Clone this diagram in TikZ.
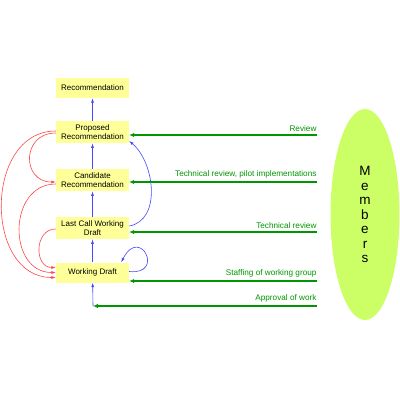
\documentclass[tikz,border=0pt]{standalone}
\usepackage{fontspec}
\setmainfont{Liberation Sans}
\usetikzlibrary{shapes.geometric,arrows.meta}
\definecolor{boxyellow}{RGB}{255,255,153}
\definecolor{memgreen}{RGB}{204,255,102}
\definecolor{fwdblue}{RGB}{70,70,255}
\definecolor{backred}{RGB}{255,70,70}
\definecolor{feedgreen}{RGB}{0,150,0}
\tikzset{
	box/.style={fill=boxyellow,minimum width=73pt,minimum height=20pt,inner xsep=2pt,inner ysep=3.5pt,align=center,font=\fontsize{8}{9.5}\selectfont},
	fwd/.style={-{Latex[length=4.5pt,width=3pt]},fwdblue,line width=0.6pt},
	back/.style={-{Latex[length=4.5pt,width=3pt]},backred,line width=0.6pt},
	feed/.style={-{Latex[length=5pt,width=4.5pt]},feedgreen,line width=1.1pt},
	lbl/.style={above left,inner xsep=0pt,inner ysep=3pt,text=feedgreen,font=\fontsize{8.2}{9.5}\selectfont}
}

\begin{document}
\begin{tikzpicture}[x=1pt,y=-1pt]
			\useasboundingbox (0,0) rectangle (400,400);
			\node[box] (rec) at (92.5,88) {Recommendation};
			\node[box] (pr) at (92.5,132) {Proposed\\Recommendation};
			\node[box] (cr) at (92.5,180) {Candidate\\Recommendation};
			\node[box] (lcwd) at (92.5,228) {Last Call Working\\Draft};
			\node[box] (wd) at (92.5,272.5) {Working Draft};
			\node[ellipse,fill=memgreen,minimum width=69pt,minimum height=211pt,inner sep=0pt,align=center,font=\fontsize{13.5}{14.5}\selectfont] (mem) at (365,214.5) {M\\e\\m\\b\\e\\r\\s};
			\coordinate (rv) at (317,135);
			\coordinate (tr) at (317,182);
			\coordinate (tc) at (317,232);
			\coordinate (st) at (317,281);
			\coordinate (ap) at (317,306);
			\coordinate (wdin) at (93,306);
			\path[fwd] (wdin) edge (wd) (wd) edge (lcwd) (lcwd) edge (cr) (cr) edge (pr) (pr) edge (rec);
			\path[fwd] ([yshift=2pt]lcwd.east) edge[out=10,in=-40,looseness=1] ([yshift=-9pt]pr.east);
			\draw[fwd] ([yshift=1pt]wd.east) .. controls +(36,4) and +(19,-37) .. ([xshift=-8pt]wd.north east);
			\path[back] ([yshift=1pt]pr.west) edge[out=180,in=180,looseness=1.26] ([yshift=-5pt]wd.west)
			([yshift=-1pt]pr.west) edge[out=180,in=180,looseness=1.8] ([yshift=-2pt]cr.west)
			([yshift=-4pt]cr.west) edge[out=180,in=180,looseness=1.4] (wd.west)
			([yshift=-1pt]lcwd.west) edge[out=180,in=180,looseness=1.45] ([yshift=5pt]wd.west);
			\path[feed] (rv) edge node[lbl,pos=0] {Review} (rv -| pr.east)
			(tr) edge node[lbl,pos=0] {Technical review, pilot implementations} (tr -| cr.east)
			(tc) edge node[lbl,pos=0] {Technical review} (tc -| lcwd.east)
			(st) edge node[lbl,pos=0] {Staffing of working group} (st -| wd.east)
			(ap) edge node[lbl,pos=0] {Approval of work} (wdin);
		\end{tikzpicture}
\end{document}
